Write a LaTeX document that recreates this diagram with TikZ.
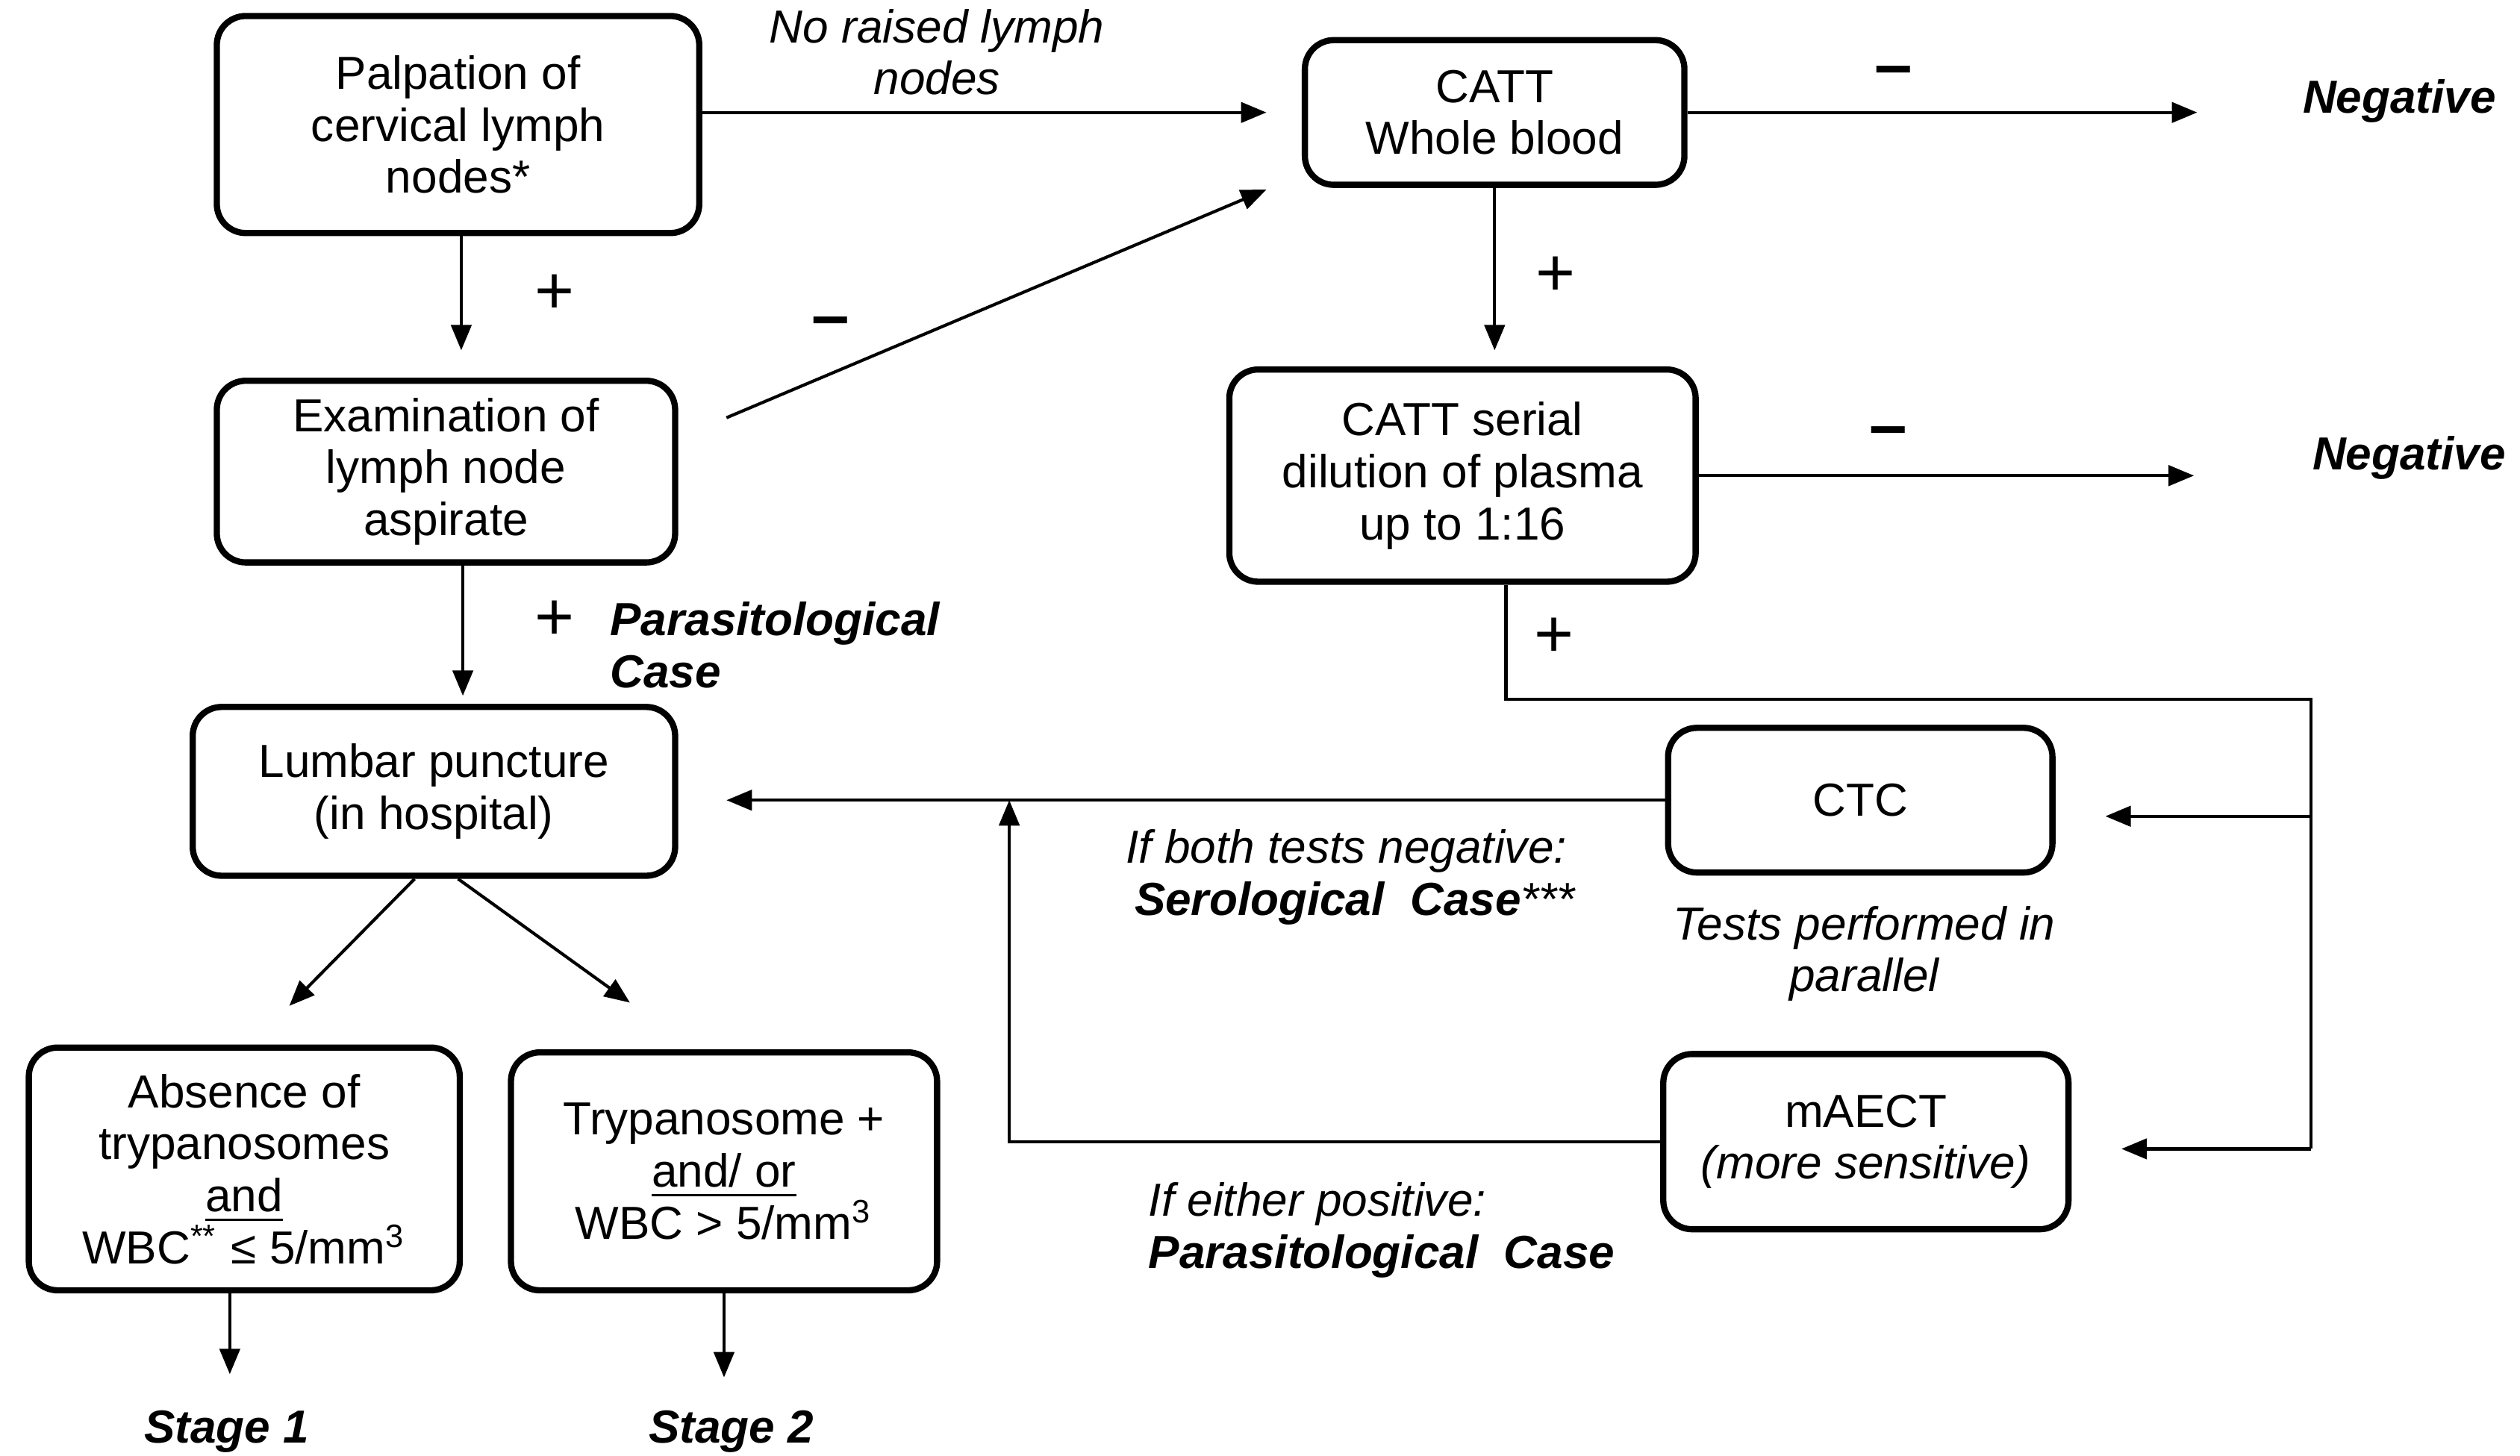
\documentclass[tikz,border=0pt]{standalone}
\usepackage{fontspec}
\setmainfont{Liberation Sans}
\usetikzlibrary{arrows.meta}
\newcommand\mainfs{\fontsize{8.2}{9.2}\selectfont}
\newcommand\signfs{\fontsize{12}{12}\selectfont}
\begin{document}
\begin{tikzpicture}[x=0.01cm,y=-0.01cm,
  box/.style={draw, line width=1.1pt, rounded corners=0.18cm, align=center, inner sep=0pt, font=\mainfs},
  arr/.style={-{Triangle[length=4.5pt,width=3.6pt]}, line width=0.55pt},
  line/.style={line width=0.55pt},
  lbl/.style={inner sep=0pt, align=center, font=\mainfs},
  sign/.style={inner sep=0pt, font=\signfs}]
\useasboundingbox (0,0) rectangle (1568,906);

% boxes
\node[box, minimum width=3cm, minimum height=1.35cm] (b1) at (285,77.5) {Palpation of\\cervical lymph\\nodes*};
\node[box, minimum width=2.85cm, minimum height=1.13cm] (b2) at (277.5,293.5) {Examination of\\lymph node\\aspirate};
\node[box, minimum width=3cm, minimum height=1.05cm] (b3) at (270,492.5) {Lumbar puncture\\(in hospital)};
\node[box, minimum width=2.68cm, minimum height=1.51cm] (b4) at (152,727.5) {Absence of\\trypanosomes\\\underline{and}\\WBC\textsuperscript{**} ≤ 5/mm\textsuperscript{3}};
\node[box, minimum width=2.65cm, minimum height=1.48cm] (b5) at (450.5,729) {Trypanosome +\\\underline{and/ or}\\WBC > 5/mm\textsuperscript{3}};
\node[box, minimum width=2.36cm, minimum height=0.9cm] (catt) at (930,70) {CATT\\Whole blood};
\node[box, minimum width=2.9cm, minimum height=1.32cm] (serial) at (910,296) {CATT serial\\dilution of plasma\\up to 1:16};
\node[box, minimum width=2.39cm, minimum height=0.9cm] (ctc) at (1157.5,498) {CTC};
\node[box, minimum width=2.52cm, minimum height=1.09cm] (maect) at (1161,710.5) {mAECT\\\textit{(more sensitive)}};

% labels
\node[lbl, font=\mainfs\itshape] (nolymph) at (583,32.5) {No raised lymph\\nodes};
\node[lbl, font=\mainfs\bfseries\itshape] (neg1) at (1493,63) {Negative};
\node[lbl, font=\mainfs\bfseries\itshape] (neg2) at (1499,285) {Negative};
\node[lbl, font=\mainfs\bfseries\itshape, align=left, anchor=west] (para) at (379,401.5) {Parasitological\\Case};
\node[lbl, align=left, anchor=west] (bothneg) at (700,546) {\textit{If both tests negative:}\\\hspace{1.5pt}\textbf{\textit{Serological\ \ Case}}\textit{***}};
\node[lbl, font=\mainfs\itshape] (parallel) at (1160,593.5) {Tests performed in\\parallel};
\node[lbl, align=left, anchor=west] (either) at (714,765.5) {\textit{If either positive:}\\\textbf{\textit{Parasitological\ \ Case}}};
\node[lbl, font=\mainfs\bfseries\itshape] (s1) at (141,891) {Stage 1};
\node[lbl, font=\mainfs\bfseries\itshape] (s2) at (455,891) {Stage 2};

\node[sign] (p1) at (345,183) {+};
\node[sign] (p2) at (968,172) {+};
\node[sign] (p3) at (967,397) {+};
\node[sign] (p4) at (345,386) {+};
\node[sign] (m1) at (517,204) {\textbf{–}};
\node[sign] (m2) at (1178,48) {\textbf{–}};
\node[sign] (m3) at (1175,272) {\textbf{–}};

% coordinates
\coordinate (j1) at (937,435);
\coordinate (j2) at (1438,435);
\coordinate (j3) at (1438,715);
\coordinate (t1) at (1438,508);
\coordinate (k) at (628,710.5);
\coordinate (a2) at (288,350);

% connectors
\draw[arr, shorten >=0.22cm] (b1.east |- catt) -- (catt.west);
\draw[arr, shorten >=0.17cm] ([xshift=0.02cm]b1.south) -- ([xshift=0.02cm]b1.south |- b2.north);
\draw[arr] ([xshift=0.3cm,yshift=0.335cm]b2.east) -- ([xshift=-0.22cm,yshift=-0.48cm]catt.west);
\draw[arr, shorten >=0.65cm] (catt.east) -- (catt.east -| neg1.west);
\draw[arr, shorten >=0.1cm] (catt.south) -- (catt.south |- serial.north);
\draw[arr, shorten >=0.73cm] (serial.east) -- (serial.east -| neg2.west);
\draw[line] (j1 |- serial.south) -- (j1) -- (j2) -- (j3);
\draw[arr, shorten >=0.31cm] (t1) -- (t1 -| ctc.east);
\draw[arr, shorten >=0.31cm] (j3) -- (j3 -| maect.east);
\draw[arr, shorten >=0.3cm] (ctc.west) -- (ctc.west -| b3.east);
\draw[arr] (maect.west) -- (k) -- (k |- ctc.west);
\draw[arr, shorten >=0.05cm] (a2) -- (a2 |- b3.north);
\draw[arr] ([xshift=-0.12cm]b3.south) -- ([xshift=0.28cm,yshift=0.24cm]b4.north);
\draw[arr] ([xshift=0.15cm]b3.south) -- ([xshift=-0.585cm,yshift=0.29cm]b5.north);
\draw[arr, shorten >=0.22cm] ([xshift=-0.09cm]b4.south) -- ([xshift=-0.09cm]b4.south |- s1.north);
\draw[arr, shorten >=0.2cm] (b5.south) -- (b5.south |- s2.north);
\end{tikzpicture}
\end{document}
